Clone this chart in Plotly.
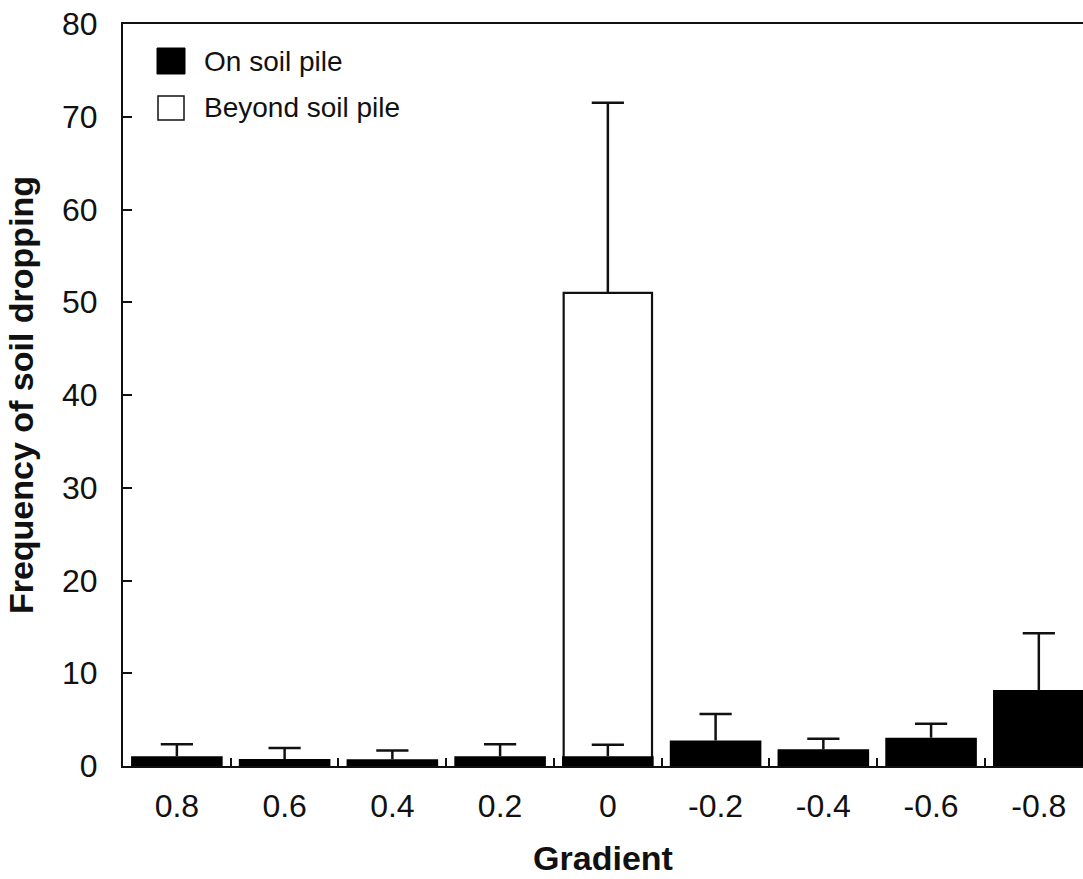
import plotly.graph_objects as go

categories = ["0.8", "0.6", "0.4", "0.2", "0", "-0.2", "-0.4", "-0.6", "-0.8"]
on_pile = [1.05, 0.75, 0.72, 1.05, 1.05, 2.75, 1.8, 3.05, 8.2]
on_pile_err = [1.3, 1.2, 0.95, 1.3, 1.25, 2.85, 1.15, 1.5, 6.1]
beyond_pile = [None, None, None, None, 51.0, None, None, None, None]
beyond_pile_err = [0, 0, 0, 0, 20.5, 0, 0, 0, 0]
legend_labels = ["On soil pile", "Beyond soil pile"]
y_ticks = [0, 10, 20, 30, 40, 50, 60, 70, 80]

FONT = "Liberation Sans, Arial, sans-serif"
INK = "#111111"

def tops(vals, errs):
    return [None if v is None else v + e for v, e in zip(vals, errs)]

fig = go.Figure()
fig.add_trace(go.Bar(
    x=categories, y=beyond_pile, name=legend_labels[1], width=0.82,
    marker=dict(color="white", line=dict(color=INK, width=2.2)),
    error_y=dict(type="data", array=beyond_pile_err, arrayminus=[0] * 9, symmetric=False,
                 color=INK, thickness=2.5, width=0),
    showlegend=False,
))
fig.add_trace(go.Scatter(
    x=categories, y=tops(beyond_pile, beyond_pile_err), mode="markers",
    marker=dict(symbol="line-ew", size=23, line=dict(color=INK, width=2.5)),
    showlegend=False, hoverinfo="skip",
))
fig.add_trace(go.Bar(
    x=categories, y=on_pile, name=legend_labels[0], width=0.85,
    marker=dict(color="black", line=dict(width=0)),
    error_y=dict(type="data", array=on_pile_err, arrayminus=[0] * 9, symmetric=False,
                 color=INK, thickness=2.5, width=0),
    showlegend=False,
))
fig.add_trace(go.Scatter(
    x=categories, y=tops(on_pile, on_pile_err), mode="markers",
    marker=dict(symbol="line-ew", size=23, line=dict(color=INK, width=2.5)),
    showlegend=False, hoverinfo="skip",
))

# legend drawn as shapes + text (large square swatches)
W, H = 960.0, 742.0
def px(x):
    return (x - 123) / W
def py(y):
    return (766 - y) / H

fig.add_shape(type="rect", xref="paper", yref="paper",
              x0=px(157), x1=px(185), y0=py(74), y1=py(48),
              fillcolor="black", line=dict(color="black", width=1))
fig.add_shape(type="rect", xref="paper", yref="paper",
              x0=px(158), x1=px(184), y0=py(120), y1=py(96),
              fillcolor="white", line=dict(color=INK, width=1.5))
fig.add_annotation(xref="paper", yref="paper", x=px(202), y=py(61), text=legend_labels[0],
                   showarrow=False, xanchor="left", yanchor="middle",
                   font=dict(family=FONT, size=28, color=INK))
fig.add_annotation(xref="paper", yref="paper", x=px(202), y=py(108), text=legend_labels[1],
                   showarrow=False, xanchor="left", yanchor="middle",
                   font=dict(family=FONT, size=28, color=INK))

fig.update_layout(
    width=1083, height=879,
    margin=dict(l=123, r=0, t=24, b=113),
    paper_bgcolor="white", plot_bgcolor="white",
    barmode="overlay",
    showlegend=False,
    font=dict(family=FONT, color=INK),
    xaxis=dict(
        type="category", categoryorder="array", categoryarray=categories,
        range=[-0.5, 8.41], automargin=False,
        showline=True, linecolor=INK, linewidth=2, mirror=True,
        ticks="inside", tickson="boundaries", ticklen=8, tickwidth=1.5, tickcolor=INK,
        tickfont=dict(family=FONT, size=32, color=INK),
        ticklabelstandoff=11, ticklabeloverflow="allow",
        showgrid=False, zeroline=False,
        title=dict(text="<b>Gradient</b>", font=dict(family=FONT, size=34, color=INK), standoff=23),
    ),
    yaxis=dict(
        range=[0, 80], tickvals=y_ticks, automargin=False,
        showline=True, linecolor=INK, linewidth=2, mirror=False,
        ticks="inside", ticklen=9, tickwidth=1.5, tickcolor=INK,
        tickfont=dict(family=FONT, size=32, color=INK),
        ticklabelstandoff=17, ticklabeloverflow="allow",
        showgrid=False, zeroline=False,
        title=dict(text="<b>Frequency of soil dropping</b>", font=dict(family=FONT, size=34, color=INK), standoff=18),
    ),
)

# remove the browser's default 8px page margin so the figure fills the window exactly
fig.write_html("out.html", config={"displayModeBar": False},
               post_script="document.body.style.margin='0';")
